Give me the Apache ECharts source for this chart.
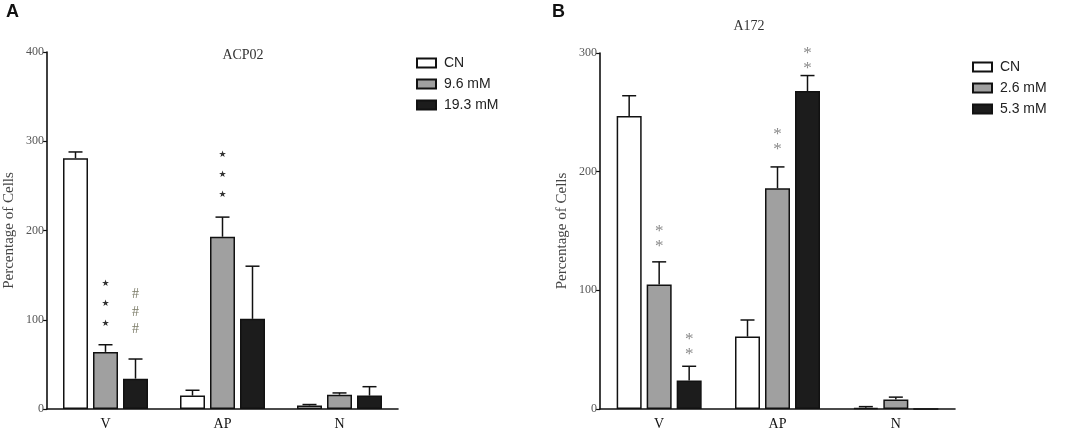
<!DOCTYPE html>
<html>
<head>
<meta charset="utf-8">
<script src="https://cdn.jsdelivr.net/npm/echarts@6/dist/echarts.min.js"></script>
<style>
  html, body { margin: 0; padding: 0; background: #fff; }
  #main { width: 1065px; height: 431px; }
</style>
</head>
<body>
<div id="main"></div>
<script>
// categories and values
var categories = ['V', 'AP', 'N'];

// panel A, ACP02
var acpNames = ['CN', '9.6 mM', '19.3 mM'];
var acpCN = [281, 15, 4];
var acpLow = [64, 193, 16];
var acpHigh = [34, 101, 15];
var acpCNErr = [7, 6, 1];
var acpLowErr = [8, 22, 2];
var acpHighErr = [22, 59, 10];
var acpTicks = [0, 400, 100];

// panel B, A172
var a172Names = ['CN', '2.6 mM', '5.3 mM'];
var a172CN = [247, 61, 1];
var a172Low = [105, 186, 8];
var a172High = [24, 268, 0];
var a172CNErr = [17, 14, 1];
var a172LowErr = [19, 18, 2];
var a172HighErr = [12, 13, 0];
var a172Ticks = [0, 300, 100];

// significance marks: category, bar slot, value of lowest mark, symbol, count
var acpMarkCat = [0, 0, 1];
var acpMarkSlot = [1, 2, 1];
var acpMarkBase = [96, 89, 240];
var acpMarkText = ['★', '#', '★'];
var acpMarkCount = [3, 3, 3];

var a172MarkCat = [0, 0, 1, 1];
var a172MarkSlot = [1, 2, 1, 2];
var a172MarkBase = [140, 49, 222, 290];
var a172MarkText = ['*', '*', '*', '*'];
var a172MarkCount = [2, 2, 2, 2];

var fills = ['#ffffff', '#a0a0a0', '#1c1c1c'];
var barW = 25;
var slotStep = 30;
var serif = '"Liberation Serif", "DejaVu Serif", serif';
var sans = '"Liberation Sans", Arial, sans-serif';

var chart = echarts.init(document.getElementById('main'), null, { renderer: 'canvas' });

function xAxisCfg(idx) {
    return {
        type: 'category',
        gridIndex: idx,
        data: categories,
        axisLine: { lineStyle: { color: '#111', width: 1.6 } },
        axisTick: { alignWithLabel: true, length: 4, lineStyle: { color: '#111', width: 1.4 } },
        axisLabel: { color: '#111', fontFamily: serif, fontSize: 14, margin: 8 }
    };
}

function yAxisCfg(idx, ticks) {
    return {
        type: 'value',
        gridIndex: idx,
        min: ticks[0],
        max: ticks[1],
        interval: ticks[2],
        name: 'Percentage of Cells',
        nameLocation: 'middle',
        nameRotate: 90,
        nameGap: 30,
        nameTextStyle: { color: '#444', fontFamily: serif, fontSize: 15 },
        axisLine: { show: true, lineStyle: { color: '#111', width: 1.6 } },
        axisTick: { show: true, length: 4, lineStyle: { color: '#111', width: 1.2 } },
        axisLabel: { color: '#555', fontFamily: serif, fontSize: 12, margin: 3 },
        splitLine: { show: false }
    };
}

function barSeries(name, values, k, idx) {
    return {
        name: name,
        type: 'bar',
        xAxisIndex: idx,
        yAxisIndex: idx,
        data: values,
        barWidth: barW,
        barGap: '20%',
        itemStyle: { color: fills[k], borderColor: '#111', borderWidth: 1.5 },
        silent: true
    };
}

function errorSeries(values, errs, k, idx) {
    return {
        type: 'custom',
        xAxisIndex: idx,
        yAxisIndex: idx,
        silent: true,
        z: 3,
        data: values.map(function (v, i) { return [i, v, v + errs[i]]; }),
        renderItem: function (params, api) {
            if (api.value(2) <= api.value(1)) return null;
            var x = api.coord([api.value(0), 0])[0] + (k - 1) * slotStep;
            var yBase = api.coord([0, api.value(1)])[1];
            var yTop = api.coord([0, api.value(2)])[1];
            var st = { stroke: '#111', lineWidth: 1.5 };
            return {
                type: 'group',
                children: [
                    { type: 'line', shape: { x1: x, y1: yBase, x2: x, y2: yTop }, style: st },
                    { type: 'line', shape: { x1: x - 7, y1: yTop, x2: x + 7, y2: yTop }, style: st }
                ]
            };
        }
    };
}

var markStyles = {
    '★': { fontSize: 9, fill: '#333', step: 20, font: '"DejaVu Sans", sans-serif' },
    '#': { fontSize: 14, fill: '#7a7a66', step: 17.5, font: serif },
    '*': { fontSize: 17, fill: '#8a8a8a', step: 15, font: serif }
};

function markSeries(cats, slots, bases, texts, counts, idx) {
    return {
        type: 'custom',
        xAxisIndex: idx,
        yAxisIndex: idx,
        silent: true,
        z: 4,
        data: cats.map(function (c, i) { return [c, bases[i]]; }),
        renderItem: function (params, api) {
            var i = params.dataIndex;
            var s = markStyles[texts[i]];
            var x = api.coord([api.value(0), 0])[0] + (slots[i] - 1) * slotStep;
            var y0 = api.coord([0, api.value(1)])[1];
            var children = [];
            for (var n = 0; n < counts[i]; n++) {
                children.push({
                    type: 'text',
                    style: {
                        x: x, y: y0 - n * s.step + (texts[i] === '*' ? 4 : 0),
                        text: texts[i], fill: s.fill,
                        fontSize: s.fontSize, fontFamily: s.font,
                        textAlign: 'center', textVerticalAlign: 'middle'
                    }
                });
            }
            return { type: 'group', children: children };
        }
    };
}

function legendCfg(names, left, top) {
    return {
        data: names,
        orient: 'vertical',
        left: left,
        top: top,
        padding: 0,
        itemWidth: 19,
        itemHeight: 9,
        itemGap: 7,
        icon: 'rect',
        selectedMode: false,
        textStyle: { color: '#222', fontFamily: sans, fontSize: 14, padding: [0, 0, 0, 3] }
    };
}

var series = [];
[[acpCN, acpCNErr], [acpLow, acpLowErr], [acpHigh, acpHighErr]].forEach(function (p, k) {
    series.push(barSeries(acpNames[k], p[0], k, 0));
});
[[acpCN, acpCNErr], [acpLow, acpLowErr], [acpHigh, acpHighErr]].forEach(function (p, k) {
    series.push(errorSeries(p[0], p[1], k, 0));
});
[[a172CN, a172CNErr], [a172Low, a172LowErr], [a172High, a172HighErr]].forEach(function (p, k) {
    series.push(barSeries(a172Names[k], p[0], k, 1));
});
[[a172CN, a172CNErr], [a172Low, a172LowErr], [a172High, a172HighErr]].forEach(function (p, k) {
    series.push(errorSeries(p[0], p[1], k, 1));
});
series.push(markSeries(acpMarkCat, acpMarkSlot, acpMarkBase, acpMarkText, acpMarkCount, 0));
series.push(markSeries(a172MarkCat, a172MarkSlot, a172MarkBase, a172MarkText, a172MarkCount, 1));

var option = {
    backgroundColor: '#fff',
    animation: false,
    grid: [
        { left: 47, top: 52, width: 351, height: 358 },
        { left: 600, top: 53, width: 355, height: 357 }
    ],
    xAxis: [xAxisCfg(0), xAxisCfg(1)],
    yAxis: [yAxisCfg(0, acpTicks), yAxisCfg(1, a172Ticks)],
    legend: [legendCfg(acpNames, 416, 56), legendCfg(a172Names, 972, 60)],
    graphic: [
        { type: 'text', left: 6, top: 3, style: { text: 'A', fontSize: 18, fontWeight: 'bold', fontFamily: sans, fill: '#111' } },
        { type: 'text', left: 552, top: 3, style: { text: 'B', fontSize: 18, fontWeight: 'bold', fontFamily: sans, fill: '#111' } },
        { type: 'text', x: 243, y: 55, style: { text: 'ACP02', fontSize: 14, fontFamily: serif, fill: '#333', textAlign: 'center', textVerticalAlign: 'middle' } },
        { type: 'text', x: 749, y: 26, style: { text: 'A172', fontSize: 14, fontFamily: serif, fill: '#333', textAlign: 'center', textVerticalAlign: 'middle' } }
    ],
    series: series
};

chart.setOption(option);
</script>
</body>
</html>
